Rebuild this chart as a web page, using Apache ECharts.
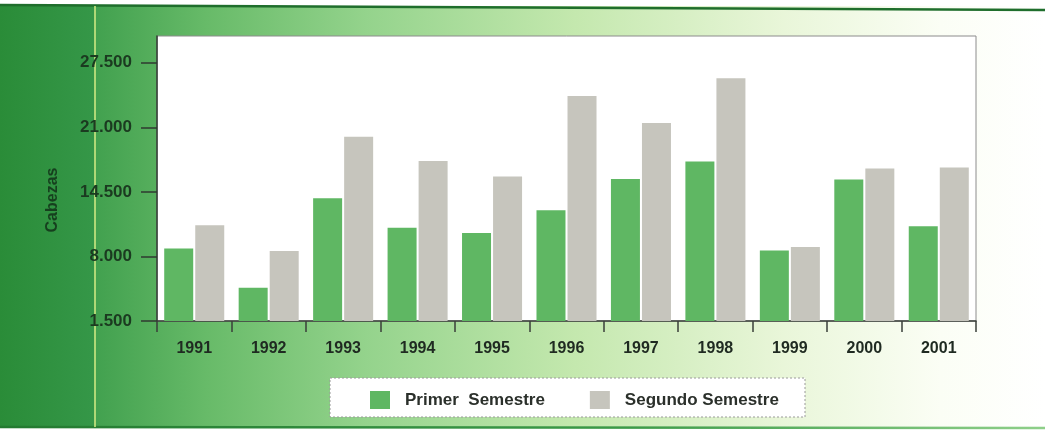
<!DOCTYPE html>
<html lang="es" style="height: 100%">
<head>
    <meta charset="UTF-8">
    <title>Cabezas por semestre</title>
    <script src="https://cdn.jsdelivr.net/npm/echarts@6/dist/echarts.min.js"></script>
</head>
<body style="height: 100%; margin: 0">
<div id="main" style="width: 1045px; height: 431px"></div>
<script>
    var years = ['1991', '1992', '1993', '1994', '1995', '1996', '1997', '1998', '1999', '2000', '2001'];
    var primer = [8800, 4850, 13850, 10900, 10350, 12650, 15800, 17550, 8600, 15750, 11050];
    var segundo = [11150, 8550, 20050, 17600, 16050, 24150, 21450, 25950, 8950, 16850, 16950];
    var yTicks = [1500, 8000, 14500, 21000, 27500];

    var font = '"Liberation Sans", Arial, sans-serif';

    function miles(v) {
        return String(v).replace(/\B(?=(\d{3})+(?!\d))/g, '.');
    }

    var myChart = echarts.init(document.getElementById('main'));
    var option = {
        animation: false,
        backgroundColor: '#ffffff',
        graphic: {
            elements: [
                // fondo verde degradado
                {
                    type: 'rect', z: -10, silent: true,
                    shape: { x: 0, y: 6, width: 1045, height: 421 },
                    style: {
                        fill: new echarts.graphic.LinearGradient(0, 0, 1, 0, [
                            { offset: 0, color: '#2a8c38' },
                            { offset: 0.09, color: '#359748' },
                            { offset: 0.092, color: '#42a14f' },
                            { offset: 0.2, color: '#68bb69' },
                            { offset: 0.35, color: '#94d38c' },
                            { offset: 0.55, color: '#c4e8ae' },
                            { offset: 0.75, color: '#e9f6d9' },
                            { offset: 0.9, color: '#fbfef5' },
                            { offset: 1, color: '#ffffff' }
                        ])
                    }
                },
                {
                    type: 'line', z: -8, silent: true,
                    shape: { x1: 0, y1: 5, x2: 1045, y2: 10 },
                    style: { stroke: '#1f6e2c', lineWidth: 2.5 }
                },
                {
                    type: 'line', z: -8, silent: true,
                    shape: { x1: 0, y1: 427, x2: 1045, y2: 428 },
                    style: {
                        stroke: new echarts.graphic.LinearGradient(0, 0, 1, 0, [
                            { offset: 0, color: '#237a30' },
                            { offset: 0.6, color: '#3c9a48' },
                            { offset: 1, color: '#8fd08a' }
                        ]),
                        lineWidth: 2.5
                    }
                },
                {
                    type: 'line', z: -8, silent: true,
                    shape: { x1: 95, y1: 6, x2: 95, y2: 427 },
                    style: { stroke: '#d6ec86', lineWidth: 1.5 }
                },
                // caja de la leyenda
                {
                    type: 'rect', z: 1, silent: true,
                    shape: { x: 330, y: 378, width: 475, height: 39 },
                    style: { fill: '#ffffff', stroke: '#9a9a9a', lineWidth: 1, lineDash: [2, 2] }
                },
                {
                    type: 'text', z: 5, silent: true,
                    x: 53, y: 200, rotation: Math.PI / 2,
                    style: {
                        text: 'Cabezas',
                        fill: '#163f1e',
                        font: 'bold 16px ' + font,
                        align: 'center',
                        verticalAlign: 'middle'
                    }
                }
            ]
        },
        legend: {
            left: 365,
            top: 386,
            itemWidth: 20,
            itemHeight: 18,
            itemGap: 45,
            icon: 'rect',
            data: ['Primer  Semestre', 'Segundo Semestre'],
            textStyle: {
                fontFamily: font,
                fontWeight: 'bold',
                fontSize: 17,
                color: '#2b302b',
                padding: [0, 0, 0, 10]
            }
        },
        grid: {
            left: 157,
            top: 36,
            right: 69,
            bottom: 110,
            show: true,
            backgroundColor: '#ffffff',
            borderColor: '#8c8c8c',
            borderWidth: 1
        },
        xAxis: {
            type: 'category',
            data: years,
            axisLine: { lineStyle: { color: '#3a3f3a', width: 1.5 } },
            axisTick: { show: true, length: 11, lineStyle: { color: '#3a3f3a', width: 1.5 } },
            axisLabel: {
                margin: 20,
                fontFamily: font,
                fontWeight: 'bold',
                fontSize: 16,
                color: '#1f2a21'
            }
        },
        yAxis: {
            type: 'value',
            min: 1500,
            max: 30200,
            splitLine: { show: false },
            axisLine: { show: true, lineStyle: { color: '#2f3a30', width: 1.5 } },
            axisTick: {
                show: true,
                length: 16,
                customValues: yTicks,
                lineStyle: { color: '#2f3a30', width: 1.5 }
            },
            axisLabel: {
                margin: 25,
                customValues: yTicks,
                formatter: miles,
                fontFamily: font,
                fontWeight: 'bold',
                fontSize: 17,
                color: '#1b3a20'
            }
        },
        series: [
            {
                name: 'Primer  Semestre',
                type: 'bar',
                data: primer,
                barWidth: 29,
                barGap: '7%',
                itemStyle: { color: '#5fb763' }
            },
            {
                name: 'Segundo Semestre',
                type: 'bar',
                data: segundo,
                barWidth: 29,
                itemStyle: { color: '#c6c5bd' }
            }
        ]
    };
    myChart.setOption(option);
</script>
</body>
</html>
